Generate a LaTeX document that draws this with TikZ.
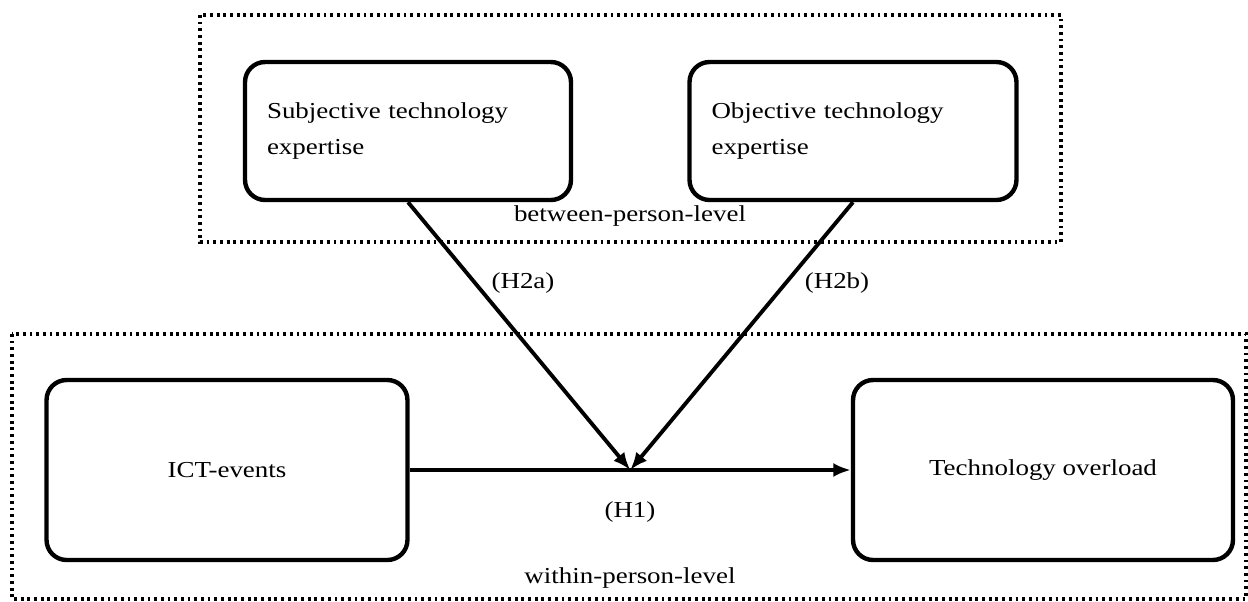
\documentclass[tikz,border=0pt]{standalone}
\usepackage{fontspec}
\setmainfont{Liberation Serif}[FakeStretch=1.18]
\usetikzlibrary{arrows.meta}
\tikzset{
  box/.style={draw,line width=2.5pt,rounded corners=0.4cm,minimum height=3.6cm},
  level/.style={line width=1.8pt,dash pattern=on 1.6pt off 2.2pt},
  link/.style={line width=2.2pt,-{Latex[length=10pt,width=8pt]}}
}
\begin{document}
\begin{tikzpicture}[x=0.02cm,y=-0.02cm,font=\fontsize{13}{20}\selectfont]
\useasboundingbox (0,0) rectangle (1248,602);
% the two levels
\draw[level] (200,15) rectangle (1061,242);
\draw[level] (12,334) rectangle (1246,599);
\node (between) at (630,216) {between-person-level};
\node (within) at (630,578) {within-person-level};
% boxes
\node[box,minimum width=6.52cm,minimum height=2.76cm,text width=5.64cm,align=left] (subj) at (408,131) {Subjective technology\\expertise};
\node[box,minimum width=6.54cm,minimum height=2.76cm,text width=5.66cm,align=left] (obj) at (853,131) {Objective technology\\expertise};
\node[box,minimum width=7.22cm] (ict) at (227,470) {ICT-events};
\node[box,minimum width=7.6cm] (over) at (1043,470) {Technology overload};
% paths
\draw[link] (ict) -- (over) coordinate[pos=0.5] (meet);
\draw[link] (subj.south) -- (meet);
\draw[link] (obj.south) -- (meet);
\node (h2a) at (523,283) {(H2a)};
\node (h2b) at (837,283) {(H2b)};
\node (h1) at (630,512) {(H1)};
\end{tikzpicture}
\end{document}
